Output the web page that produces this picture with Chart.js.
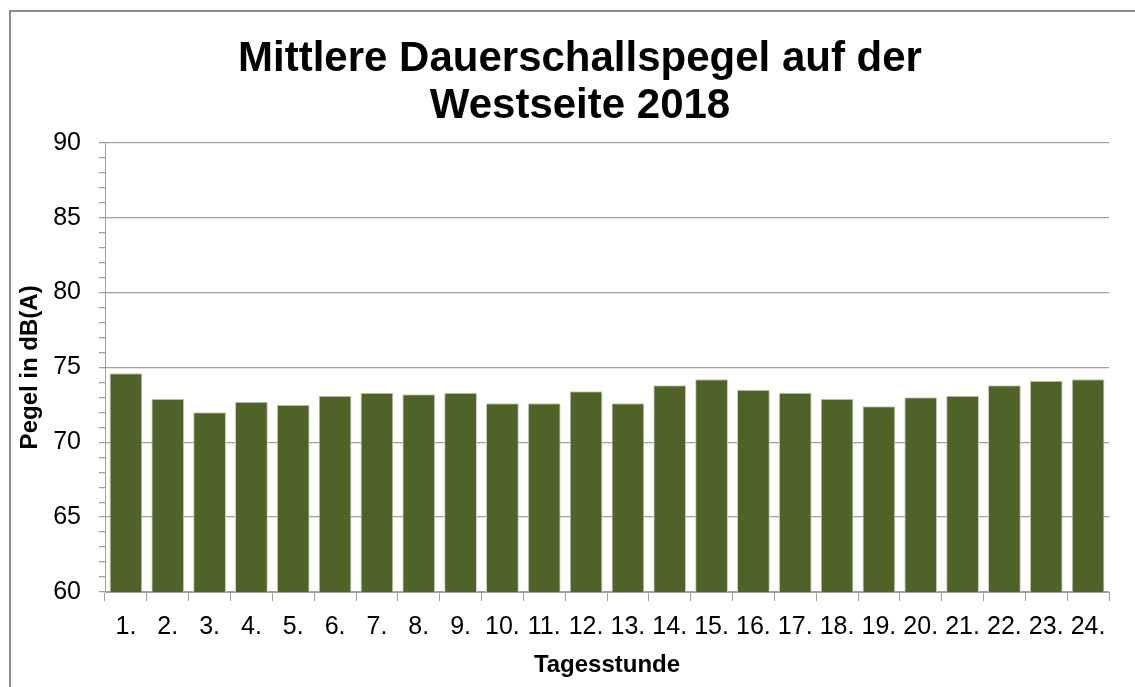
<!DOCTYPE html>
<html>
<head>
<meta charset="utf-8">
<script src="https://cdn.jsdelivr.net/npm/chart.js@4.4.1/dist/chart.umd.min.js"></script>
<style>
  html, body { margin: 0; padding: 0; background: #fff; }
  #wrap { position: relative; width: 1135px; height: 687px; overflow: hidden; }
  #frame { position: absolute; left: 9px; top: 10px; width: 1140px; height: 700px; border: 2px solid #8c8c8c; box-sizing: border-box; }
  #c { position: absolute; left: 0; top: 0; }
</style>
</head>
<body>
<div id="wrap">
  <div id="frame"></div>
  <canvas id="c" width="1160" height="687"></canvas>
</div>
<script>
// Stunden 1. bis 24.
const stunden = ['1.', '2.', '3.', '4.', '5.', '6.', '7.', '8.', '9.', '10.', '11.', '12.',
                 '13.', '14.', '15.', '16.', '17.', '18.', '19.', '20.', '21.', '22.', '23.', '24.'];
// mittlerer Pegel in dB(A)
const pegel = [74.6, 72.9, 72.0, 72.7, 72.5, 73.1, 73.3, 73.2, 73.3, 72.6, 72.6, 73.4,
               72.6, 73.8, 74.2, 73.5, 73.3, 72.9, 72.4, 73.0, 73.1, 73.8, 74.1, 74.2];
const titelZeilen = ['Mittlere Dauerschallspegel auf der', 'Westseite 2018'];
const yMin = 60, yMax = 90, yHaupt = 5;

const grau = '#a0a0a0';
const schrift = "'Liberation Sans', Arial, sans-serif";

new Chart(document.getElementById('c'), {
    type: 'bar',
    data: {
        labels: stunden,
        datasets: [{
            data: pegel,
            backgroundColor: '#4f6228',
            borderColor: '#c8cdbd',
            borderWidth: 1,
            categoryPercentage: 0.8,
            barPercentage: 0.98
        }]
    },
    options: {
        responsive: false,
        animation: false,
        layout: { padding: { left: 16, right: 16, top: 35, bottom: 10 } },
        plugins: {
            legend: { display: false },
            tooltip: { enabled: false },
            title: {
                display: true,
                text: titelZeilen,
                color: '#000',
                font: { family: schrift, size: 42, weight: 'bold', lineHeight: 1.14 },
                padding: { top: 0, bottom: 12 }
            }
        },
        scales: {
            x: {
                offset: true,
                grid: { offset: true, drawOnChartArea: false, color: grau, tickLength: 9 },
                border: { color: grau, width: 1 },
                ticks: { color: '#000', font: { family: schrift, size: 25 }, padding: 11, maxRotation: 0, autoSkip: false },
                title: { display: true, text: 'Tagesstunde', color: '#000', font: { family: schrift, size: 24, weight: 'bold', lineHeight: 1.0 }, padding: 0 }
            },
            y: {
                min: yMin, max: yMax,
                afterFit: s => { s.width = 89; },
                grid: {
                    color: ctx => (ctx.tick && ctx.tick.value % yHaupt === 0) ? grau : 'rgba(0,0,0,0)',
                    tickColor: grau,
                    tickLength: 6,
                    lineWidth: 1.3
                },
                border: { color: grau, width: 1 },
                ticks: {
                    stepSize: 1,
                    autoSkip: false,
                    color: '#000',
                    padding: 18,
                    font: { family: schrift, size: 25 },
                    callback: v => v % yHaupt === 0 ? v : ''
                },
                title: { display: true, text: 'Pegel in dB(A)', color: '#000', font: { family: schrift, size: 24, weight: 'bold' }, padding: 0 }
            },
            // leerer Rand rechts, damit der Titel wie im Original sitzt
            rechts: {
                position: 'right',
                afterFit: s => { s.width = 35; },
                grid: { display: false },
                border: { display: false },
                ticks: { display: false }
            }
        }
    }
});
</script>
</body>
</html>
